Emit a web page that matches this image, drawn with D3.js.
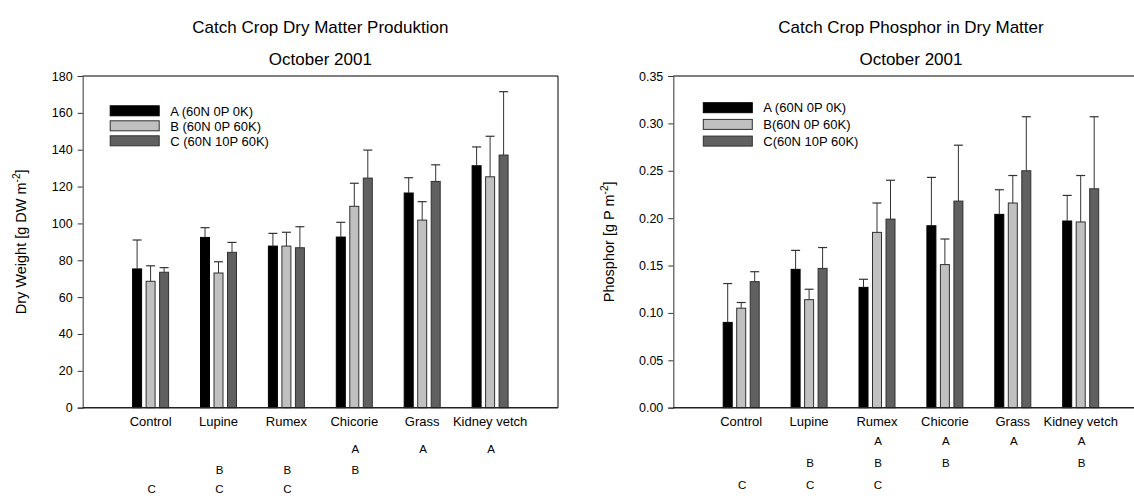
<!DOCTYPE html>
<html><head><meta charset="utf-8">
<script src="https://cdn.jsdelivr.net/npm/d3@7"></script>
<style>
body{margin:0;background:#fff;}
svg{display:block;font-family:"Liberation Sans",Arial,sans-serif;}
</style></head>
<body><svg id="c" width="1134" height="496"></svg>
<script>
const categories = ["Control","Lupine","Rumex","Chicorie","Grass","Kidney vetch"];
const seriesNamesDM = ["A (60N 0P 0K)","B (60N 0P 60K)","C (60N 10P 60K)"];
const seriesNamesP = ["A (60N 0P 0K)","B(60N 0P 60K)","C(60N 10P 60K)"];

const dmA = [75.3, 92.4, 87.7, 92.6, 116.5, 131.3];
const dmB = [68.6, 73.1, 87.7, 109.3, 101.8, 125.3];
const dmC = [73.5, 84.3, 86.8, 124.6, 122.8, 137.1];
const dmAerr = [15.7, 5.3, 6.9, 8.0, 8.3, 10.2];
const dmBerr = [8.4, 6.1, 7.5, 12.5, 10.0, 22.0];
const dmCerr = [2.5, 5.4, 11.4, 15.2, 9.0, 34.4];

const pA = [0.090, 0.146, 0.127, 0.192, 0.204, 0.197];
const pB = [0.105, 0.114, 0.185, 0.151, 0.216, 0.196];
const pC = [0.133, 0.147, 0.199, 0.218, 0.250, 0.231];
const pAerr = [0.041, 0.020, 0.0085, 0.051, 0.026, 0.027];
const pBerr = [0.006, 0.011, 0.031, 0.027, 0.029, 0.049];
const pCerr = [0.0105, 0.022, 0.041, 0.059, 0.057, 0.076];

const dmTicks = [0,20,40,60,80,100,120,140,160,180];
const pTicks = [0,0.05,0.10,0.15,0.20,0.25,0.30,0.35];

const dmLetters = [["","","","A","A","A"],["","B","B","B","",""],["C","C","C","","",""]];
const pLetters = [["","","A","A","A","A"],["","B","B","B","","B"],["C","C","C","","",""]];

const fills = ["#000000","#c0c0c0","#606060"];
const strokes = ["#000000","#303030","#303030"];

const svg = d3.select("#c");

function drawChart(o){
  const g = svg.append("g");
  const x = d3.scaleLinear().domain([0,7]).range([o.left, o.right]);
  const y = d3.scaleLinear().domain(o.domain).range([o.bottom, o.top]);
  const cx = i => x(i+1);
  const offs = [-13.5, 0, 13.5];
  const bw = 9;

  // frame
  g.append("line").attr("x1",o.left).attr("x2",o.right).attr("y1",o.top).attr("y2",o.top)
    .attr("stroke","#000").attr("stroke-width",1);
  if(o.rightSpine) g.append("line").attr("x1",o.right).attr("x2",o.right).attr("y1",o.top).attr("y2",o.bottom)
    .attr("stroke","#000").attr("stroke-width",1);

  // y axis
  const ya = d3.axisLeft(y).tickValues(o.ticks).tickSize(5).tickPadding(5).tickFormat(o.fmt);
  const yg = g.append("g").attr("transform",`translate(${o.left},0)`).call(ya);
  yg.select(".domain").attr("stroke","#555").attr("stroke-width",1.2);
  yg.selectAll(".tick line").attr("stroke","#333");
  yg.selectAll("text").attr("font-size",12.5).attr("fill","#000").attr("font-family","Liberation Sans, Arial, sans-serif");

  // bars
  o.series.forEach((vals,s)=>{
    g.selectAll(null).data(vals).enter().append("rect")
      .attr("x",(d,i)=>cx(i)+offs[s]-bw/2)
      .attr("y",d=>y(d))
      .attr("width",bw)
      .attr("height",d=>o.bottom-y(d))
      .attr("fill",fills[s]).attr("stroke",strokes[s]).attr("stroke-width",1);
    const errs = o.errs[s];
    g.selectAll(null).data(vals).enter().append("line")
      .attr("x1",(d,i)=>cx(i)+offs[s]).attr("x2",(d,i)=>cx(i)+offs[s])
      .attr("y1",d=>y(d)).attr("y2",(d,i)=>y(d+errs[i]))
      .attr("stroke","#333").attr("stroke-width",1);
    g.selectAll(null).data(vals).enter().append("line")
      .attr("x1",(d,i)=>cx(i)+offs[s]-4.5).attr("x2",(d,i)=>cx(i)+offs[s]+4.5)
      .attr("y1",(d,i)=>y(d+errs[i])).attr("y2",(d,i)=>y(d+errs[i]))
      .attr("stroke","#333").attr("stroke-width",1.2);
  });

  // bottom axis
  g.append("line").attr("x1",o.left).attr("x2",o.right).attr("y1",o.bottom).attr("y2",o.bottom)
    .attr("stroke","#222").attr("stroke-width",1.6);

  // category labels
  g.selectAll(null).data(categories).enter().append("text")
    .attr("x",(d,i)=>cx(i)).attr("y",o.bottom+18.7).attr("text-anchor","middle")
    .attr("font-size",13).text(d=>d);

  // letters
  o.letters.forEach((row,r)=>{
    g.selectAll(null).data(row).enter().append("text")
      .attr("x",(d,i)=>cx(i)+1).attr("y",o.letterY[r]).attr("text-anchor","middle")
      .attr("font-size",11.5).text(d=>d);
  });

  // titles
  const mid = (o.left+o.right)/2;
  g.append("text").attr("x",mid).attr("y",33).attr("text-anchor","middle").attr("font-size",17).text(o.title);
  g.append("text").attr("x",mid).attr("y",64.5).attr("text-anchor","middle").attr("font-size",17).text("October 2001");

  // y label
  const yl = g.append("text").attr("transform",`translate(${o.left-o.ylabOff},${(o.top+o.bottom)/2}) rotate(-90)`)
    .attr("text-anchor","middle").attr("font-size",14.5);
  yl.append("tspan").text(o.ylab);
  yl.append("tspan").attr("dy",-6).attr("font-size",10).text("-2");
  yl.append("tspan").attr("dy",6).text("]");

  // legend
  o.names.forEach((n,s)=>{
    const yy = o.legY + s*o.legStep;
    g.append("rect").attr("x",o.left+o.legX).attr("y",yy-5).attr("width",49).attr("height",10)
      .attr("fill",fills[s]).attr("stroke",strokes[s]).attr("stroke-width",1);
    g.append("text").attr("x",o.left+o.legX+60).attr("y",yy+4.7).attr("font-size",13).text(n);
  });
}

drawChart({left:82.7,right:558,top:76,bottom:407.7,domain:[0,180],ticks:dmTicks,fmt:d3.format("d"),
  series:[dmA,dmB,dmC],errs:[dmAerr,dmBerr,dmCerr],letters:dmLetters,letterY:[453.2,474.2,493.3],
  title:"Catch Crop Dry Matter Produktion",ylab:"Dry Weight [g DW m",ylabOff:57,rightSpine:true,
  names:seriesNamesDM,legX:27.5,legY:110.8,legStep:15});

drawChart({left:673.3,right:1148.6,top:76,bottom:407.7,domain:[0,0.35],ticks:pTicks,fmt:d3.format(".2f"),
  series:[pA,pB,pC],errs:[pAerr,pBerr,pCerr],letters:pLetters,letterY:[445.2,466.9,489.2],
  title:"Catch Crop Phosphor in Dry Matter",ylab:"Phosphor [g P m",ylabOff:59,rightSpine:false,
  names:seriesNamesP,legX:30,legY:107.7,legStep:16.7});
</script></body></html>
